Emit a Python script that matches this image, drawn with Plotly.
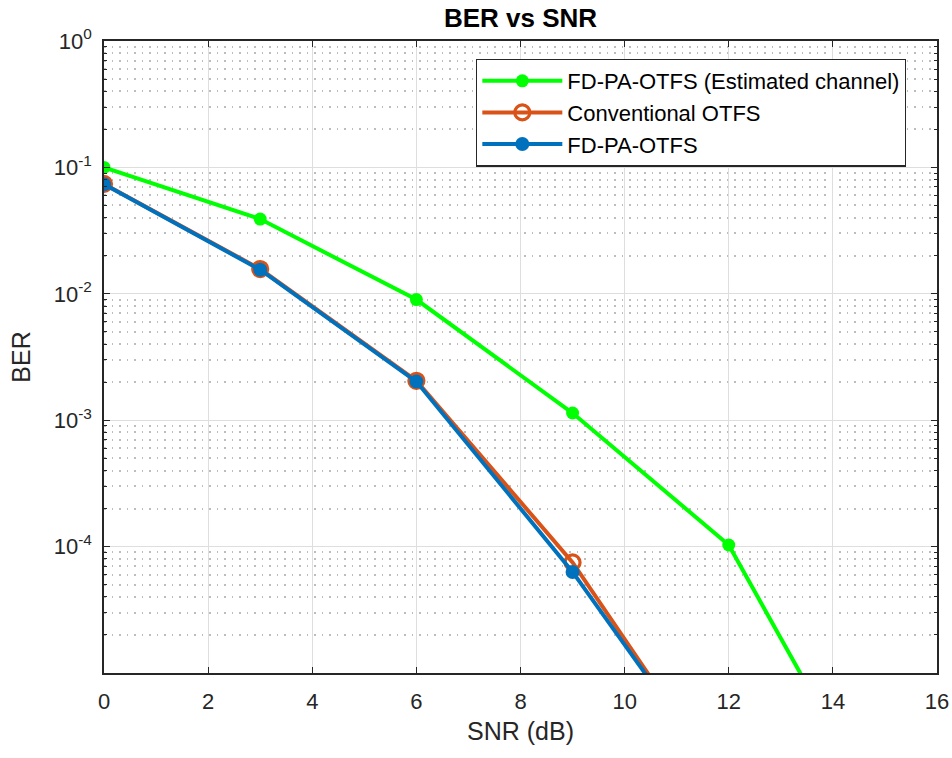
import plotly.graph_objects as go

# SNR sweep (dB)
snr = [0, 3, 6, 9, 12, 15]

# Bit error rates per scheme
ber_fdpa_est = [0.100, 0.039, 0.0090, 0.00114, 1.03e-4, 6.3e-7]
ber_conv = [0.074, 0.0157, 0.00205, 7.5e-5, 1.13e-6]
ber_fdpa = [0.0736, 0.0155, 0.00202, 6.3e-5, 1.18e-6]

series_names = ["FD-PA-OTFS (Estimated channel)", "Conventional OTFS", "FD-PA-OTFS"]

x_ticks = [0, 2, 4, 6, 8, 10, 12, 14, 16]
y_exponents = [-4, -3, -2, -1, 0]

GREEN = "#00FF00"
ORANGE = "#D95319"
BLUE = "#0072BD"
AXIS_COLOR = "#262626"
FONT = "Liberation Sans, Arial, sans-serif"

fig = go.Figure()

fig.add_trace(go.Scatter(
    x=snr, y=ber_fdpa_est, name=series_names[0], mode="lines+markers",
    line=dict(color=GREEN, width=4),
    marker=dict(symbol="circle", size=13, color=GREEN),
))
fig.add_trace(go.Scatter(
    x=snr[:len(ber_conv)], y=ber_conv, name=series_names[1], mode="lines+markers",
    line=dict(color=ORANGE, width=4),
    marker=dict(symbol="circle-open", size=15, color=ORANGE, line=dict(width=3.2, color=ORANGE)),
))
fig.add_trace(go.Scatter(
    x=snr[:len(ber_fdpa)], y=ber_fdpa, name=series_names[2], mode="lines+markers",
    line=dict(color=BLUE, width=4),
    marker=dict(symbol="circle", size=14, color=BLUE),
))

# minor ticks 2..9 inside each decade
minor_vals = [m * 10.0 ** e for e in range(-5, 0) for m in range(2, 10)]

fig.update_xaxes(
    range=[0, 16],
    automargin=False,
    tickvals=x_ticks,
    ticktext=[str(v) for v in x_ticks],
    ticks="inside", ticklen=6, tickcolor=AXIS_COLOR, tickwidth=1,
    showline=True, linecolor=AXIS_COLOR, linewidth=1.5, mirror="ticks",
    showgrid=True, gridcolor="#dedede", gridwidth=1.3,
    zeroline=False,
    tickfont=dict(family=FONT, size=22, color=AXIS_COLOR),
    title=dict(text="SNR (dB)", font=dict(family=FONT, size=25, color=AXIS_COLOR), standoff=9),
    ticklabelstandoff=8,
)

fig.update_yaxes(
    type="log",
    range=[-5, 0],
    automargin=False,
    tickvals=[10.0 ** e for e in y_exponents],
    ticktext=[f"10<sup>{e}</sup>" for e in y_exponents],
    ticks="inside", ticklen=6, tickcolor=AXIS_COLOR, tickwidth=1,
    showline=True, linecolor=AXIS_COLOR, linewidth=1.5, mirror="ticks",
    showgrid=True, gridcolor="#dedede", gridwidth=1.3,
    zeroline=False,
    minor=dict(
        tickvals=minor_vals, ticks="inside", ticklen=3.5, tickcolor=AXIS_COLOR,
        showgrid=True, gridcolor="#bdbdbd", griddash="1.5px,6px", gridwidth=1.5,
    ),
    tickfont=dict(family=FONT, size=22, color=AXIS_COLOR),
    title=dict(text="BER", font=dict(family=FONT, size=25, color=AXIS_COLOR), standoff=16),
    ticklabelstandoff=6,
)

fig.update_layout(
    width=952, height=758,
    margin=dict(l=104, r=15, t=41, b=85),
    paper_bgcolor="white", plot_bgcolor="white",
    title=dict(
        text="<b>BER vs SNR</b>", x=0.5467, xanchor="center",
        y=1 - 18 / 758, yanchor="middle", yref="container",
        font=dict(family=FONT, size=26, color="black"),
    ),
    legend=dict(
        x=0.4466, y=0.972, xanchor="left", yanchor="top",
        bgcolor="white", bordercolor=AXIS_COLOR, borderwidth=1.3,
        font=dict(family=FONT, size=22, color="black"),
        itemwidth=80, tracegroupgap=0,
    ),
    showlegend=True,
)

fig.write_html("out.html")
